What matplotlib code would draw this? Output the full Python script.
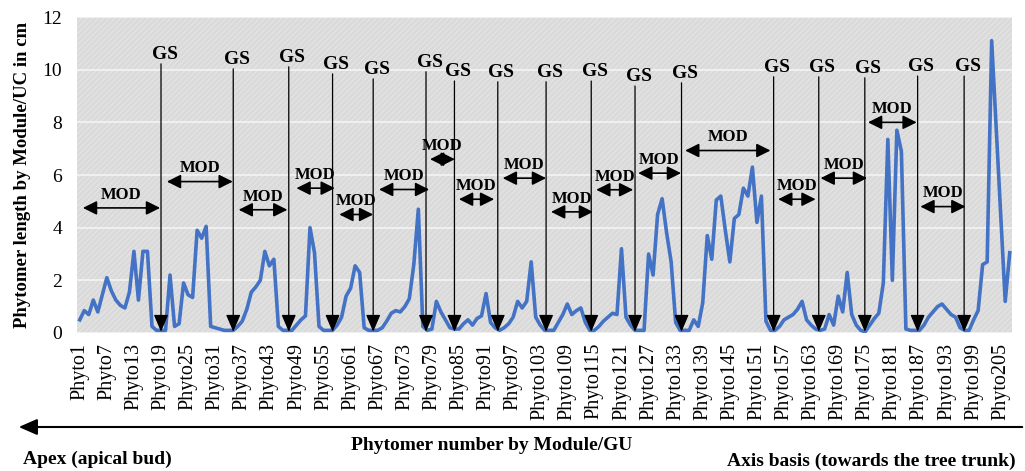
import matplotlib
matplotlib.use('Agg')
import matplotlib.pyplot as plt
from matplotlib.patches import FancyArrowPatch

plt.rcParams['font.family'] = ['Liberation Serif', 'DejaVu Serif']
plt.rcParams['hatch.linewidth'] = 0.4

# longueur des phytomères (cm), Phyto1 -> Phyto207
values = [0.5, 0.85, 0.7, 1.25, 0.8, 1.45, 2.1, 1.6, 1.25, 1.05,
          0.95, 1.55, 3.1, 1.25, 3.1, 3.1, 0.25, 0.1, 0.1, 0.1,
          2.2, 0.25, 0.35, 1.9, 1.45, 1.35, 3.9, 3.6, 4.05, 0.25,
          0.2, 0.15, 0.1, 0.1, 0.1, 0.25, 0.45, 0.9, 1.55, 1.75,
          2.0, 3.1, 2.55, 2.8, 0.25, 0.1, 0.1, 0.1, 0.3, 0.5,
          0.65, 4.0, 3.05, 0.25, 0.1, 0.1, 0.1, 0.3, 0.6, 1.4,
          1.7, 2.55, 2.3, 0.2, 0.1, 0.1, 0.1, 0.2, 0.45, 0.75,
          0.85, 0.8, 1.0, 1.3, 2.6, 4.7, 0.25, 0.1, 0.15, 1.2,
          0.8, 0.5, 0.2, 0.15, 0.15, 0.35, 0.5, 0.3, 0.55, 0.65,
          1.5, 0.4, 0.2, 0.1, 0.2, 0.35, 0.6, 1.2, 0.95, 1.2,
          2.7, 0.6, 0.3, 0.1, 0.1, 0.1, 0.4, 0.7, 1.1, 0.7,
          0.85, 0.95, 0.4, 0.1, 0.1, 0.25, 0.45, 0.6, 0.75, 0.7,
          3.2, 0.6, 0.3, 0.1, 0.1, 0.1, 3.0, 2.2, 4.5, 5.1,
          3.8, 2.7, 0.4, 0.1, 0.1, 0.1, 0.5, 0.25, 1.15, 3.7,
          2.8, 5.05, 5.2, 3.9, 2.7, 4.35, 4.5, 5.5, 5.2, 6.3,
          4.2, 5.2, 0.45, 0.1, 0.1, 0.25, 0.5, 0.6, 0.7, 0.9,
          1.2, 0.5, 0.3, 0.15, 0.1, 0.15, 0.7, 0.3, 1.4, 0.8,
          2.3, 0.7, 0.3, 0.1, 0.05, 0.3, 0.55, 0.75, 1.9, 7.35,
          2.0, 7.7, 6.9, 0.15, 0.1, 0.1, 0.1, 0.3, 0.6, 0.8,
          1.0, 1.1, 0.9, 0.7, 0.6, 0.2, 0.1, 0.1, 0.5, 0.85,
          2.6, 2.7, 11.1, 7.8, 4.5, 1.2, 3.05]
phyto = ['Phyto%d' % i for i in range(1, len(values) + 1)]

# positions des arrêts de croissance (GS) et hauteur du texte
gs_pos = [19, 35, 47.3, 57, 66, 77.7, 84, 93.6, 104.3, 114.3,
          124, 134.3, 154.7, 164.7, 174.9, 186.6, 196.9]
gs_text_y = [10.57, 10.38, 10.46, 10.19, 10.0, 10.27, 9.92, 9.89, 9.89, 9.92,
             9.73, 9.85, 10.08, 10.08, 10.04, 10.11, 10.11]

# modules (MOD) : début, fin, hauteur
mod_start = [1.7, 20.3, 36.2, 49.0, 58.5, 67.3, 78.6, 85.0, 94.7, 105.4,
             115.4, 124.7, 135.1, 155.7, 165.1, 175.6, 187.2]
mod_end = [18.8, 34.9, 47.0, 57.5, 66.0, 78.4, 84.1, 92.8, 104.3, 114.7,
           123.6, 134.2, 154.0, 164.0, 175.4, 186.4, 197.2]
mod_y = [4.75, 5.75, 4.68, 5.5, 4.5, 5.45, 6.6, 5.08, 5.88, 4.6,
         5.44, 6.07, 6.93, 5.08, 5.88, 8.0, 4.8]

fig = plt.figure(figsize=(10.25, 4.71), dpi=100)
ax = fig.add_axes([0.0756, 0.293, 0.9117, 0.6709])

x = list(range(1, len(values) + 1))
ax.set_facecolor('#dadada')
ax.add_patch(plt.Rectangle((0, 0), 1, 1, transform=ax.transAxes, facecolor='none',
                           edgecolor='#eeeeee', hatch='//////', lw=0, zorder=0))
ax.grid(axis='y', color='#f4f4f4', linewidth=1.2)
ax.set_axisbelow(True)

ax.plot(x, values, color='#4472C4', linewidth=2.6, zorder=3)

# flèches GS (verticales)
for p, ty in zip(gs_pos, gs_text_y):
    ax.text(p + 0.8, ty, 'GS', ha='center', va='center', fontsize=14,
            fontweight='bold', zorder=5)
    ax.add_patch(FancyArrowPatch((p, ty - 0.35), (p, 0.05),
                                 arrowstyle='-|>,head_length=0.75,head_width=0.32',
                                 mutation_scale=14, color='black', lw=0.9,
                                 shrinkA=0, shrinkB=0, zorder=5))

# flèches MOD
for a, b, y in zip(mod_start, mod_end, mod_y):
    ax.add_patch(FancyArrowPatch((a, y), (b, y),
                                 arrowstyle='<|-|>,head_length=0.7,head_width=0.35',
                                 mutation_scale=12, color='black', lw=1.2,
                                 shrinkA=0, shrinkB=0, zorder=5))
    ax.text((a + b) / 2, y + 0.5, 'MOD', ha='center', va='center',
            fontsize=12, fontweight='bold', zorder=5)

ax.set_xlim(0.5, len(values) + 0.5)
ax.set_ylim(0, 12)
ax.set_yticks(range(0, 13, 2))
ax.set_xticks(x[::6])
ax.set_xticklabels(phyto[::6], rotation=90, fontsize=14.5)
ax.tick_params(axis='y', length=0, pad=11, labelsize=14)
ax.tick_params(axis='x', length=0, pad=7)
for s in ax.spines.values():
    s.set_visible(False)

ax.set_ylabel('Phytomer length by Module/UC in cm', fontsize=13.5,
              fontweight='bold', labelpad=8)

# flèche sous l'axe
fig.patches.append(FancyArrowPatch((1025, 44), (16, 44), transform=None,
                                   arrowstyle='-|>,head_length=0.8,head_width=0.35',
                                   mutation_scale=14, color='black', lw=1.5))
fig.text(492 / 1025, 1 - 446 / 471, 'Phytomer number by Module/GU', ha='center',
         va='center', fontsize=14, fontweight='bold')
fig.text(23 / 1025, 1 - 459 / 471, 'Apex (apical bud)', ha='left', va='center',
         fontsize=14, fontweight='bold')
fig.text(1016 / 1025, 1 - 461 / 471, 'Axis basis (towards the tree trunk)',
         ha='right', va='center', fontsize=14, fontweight='bold')

fig.savefig('out.png', dpi=100)
